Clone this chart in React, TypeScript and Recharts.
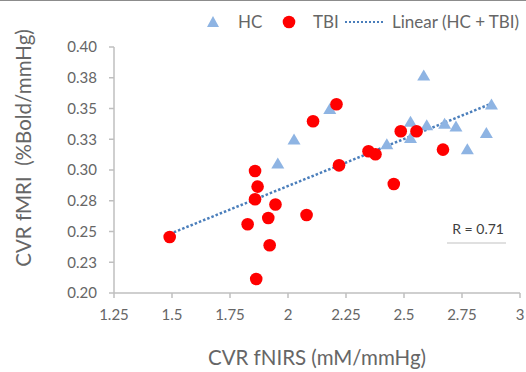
import React from 'react';
import { ScatterChart, Scatter, XAxis, YAxis } from 'recharts';

// HC group (triangles)
const hcX = [1.956, 2.026, 2.18, 2.585, 2.877, 2.528, 2.598, 2.675, 2.724, 2.855, 2.528, 2.426, 2.773];
const hcY = [0.3052, 0.3247, 0.3496, 0.3768, 0.3532, 0.3393, 0.3363, 0.3377, 0.3353, 0.330, 0.326, 0.3209, 0.3168];

// TBI group (circles)
const tbiX = [1.49, 1.869, 1.858, 1.946, 1.915, 1.826, 2.08, 1.921, 1.863, 1.858, 2.108, 2.209, 2.22, 2.347, 2.377, 2.486, 2.554, 2.668, 2.456];
const tbiY = [0.2455, 0.2865, 0.2762, 0.2719, 0.261, 0.2559, 0.2634, 0.2388, 0.2114, 0.2992, 0.3396, 0.3534, 0.3038, 0.3152, 0.3128, 0.3315, 0.3315, 0.3166, 0.2886];

// Linear fit (HC + TBI) endpoints
const trendX = [1.49, 2.877];
const trendY = [0.248, 0.354];

const xTicks = [1.25, 1.5, 1.75, 2, 2.25, 2.5, 2.75, 3];
const yTicks = [0.2, 0.225, 0.25, 0.275, 0.3, 0.325, 0.35, 0.375, 0.4];

const hcData = hcX.map((x, i) => ({ x, y: hcY[i] }));
const tbiData = tbiX.map((x, i) => ({ x, y: tbiY[i] }));
const trendData = trendX.map((x, i) => ({ x, y: trendY[i] }));

const FONT = 'Lato, "Open Sans", sans-serif';
const GREY_TEXT = '#666666';
const AXIS = '#bfbfbf';
const HC_COLOR = '#8eb4e3';
const TBI_COLOR = '#ff0000';
const TREND_COLOR = '#4a7ebb';

const Triangle = (props: any) => {
  const { cx, cy } = props;
  return <polygon points={`${cx},${cy - 6} ${cx - 6.5},${cy + 5} ${cx + 6.5},${cy + 5}`} fill={HC_COLOR} />;
};

const Dot = (props: any) => {
  const { cx, cy } = props;
  return <circle cx={cx} cy={cy} r={6.3} fill={TBI_COLOR} />;
};

const NoShape = () => <g />;

const App: React.FC = () => {
  return (
    <div style={{ position: 'absolute', left: 0, top: 0, width: 526, height: 372, background: '#fff', fontFamily: FONT }}>
      <div style={{ position: 'absolute', left: 0, top: 0, width: 526, height: 1, background: '#8c8c8c' }} />
      <ScatterChart width={526} height={372} margin={{ top: 47, right: 6, bottom: 0, left: 0 }}>
        <XAxis
          type="number"
          dataKey="x"
          domain={[1.25, 3]}
          ticks={xTicks}
          height={79}
          stroke={AXIS}
          strokeWidth={1.5}
          tickSize={5}
          tickMargin={11}
          tick={{ fill: GREY_TEXT, fontSize: 15, fontFamily: FONT }}
          label={{
            content: () => (
              <text x={317} y={365} textAnchor="middle" fill={GREY_TEXT} fontSize={20.5} fontFamily={FONT}>
                CVR fNIRS (mM/mmHg)
              </text>
            ),
          }}
        />
        <YAxis
          type="number"
          dataKey="y"
          domain={[0.2, 0.4]}
          ticks={yTicks}
          width={114}
          stroke={AXIS}
          strokeWidth={1.5}
          tickSize={5}
          tickMargin={12}
          tickFormatter={(v: number) => v.toFixed(2)}
          tick={{ fill: GREY_TEXT, fontSize: 15, fontFamily: FONT }}
          label={{
            content: () => (
              <text
                x={0}
                y={0}
                transform="translate(31,148) rotate(-90)"
                textAnchor="middle"
                fill={GREY_TEXT}
                fontSize={20.5}
                fontFamily={FONT}
                style={{ whiteSpace: 'pre' }}
              >
                {'CVR fMRI  (%Bold/mmHg)'}
              </text>
            ),
          }}
        />
        <Scatter
          data={trendData}
          line={{ stroke: TREND_COLOR, strokeWidth: 2.5, strokeDasharray: '2.5 2' }}
          shape={NoShape}
          isAnimationActive={false}
        />
        <Scatter data={hcData} shape={Triangle} isAnimationActive={false} />
        <Scatter data={tbiData} shape={Dot} isAnimationActive={false} />
      </ScatterChart>

      {/* legend */}
      <svg width={526} height={40} style={{ position: 'absolute', left: 0, top: 0 }}>
        <polygon points="213,16 207,27 219,27" fill={HC_COLOR} />
        <text x={238} y={28} fill={GREY_TEXT} fontSize={17} fontFamily={FONT}>HC</text>
        <circle cx={289} cy={22} r={6.3} fill={TBI_COLOR} />
        <text x={313} y={28} fill={GREY_TEXT} fontSize={17} fontFamily={FONT}>TBI</text>
        <line x1={345} y1={22} x2={385} y2={22} stroke={TREND_COLOR} strokeWidth={2} strokeDasharray="2 2" />
        <text x={392} y={28} fill={GREY_TEXT} fontSize={17} fontFamily={FONT}>Linear (HC + TBI)</text>
      </svg>

      {/* correlation note */}
      <div
        style={{
          position: 'absolute',
          left: 440,
          top: 219,
          width: 64,
          textAlign: 'right',
          fontSize: 14,
          color: '#404040',
          lineHeight: '20px',
        }}
      >
        R = 0.71
      </div>
      <div style={{ position: 'absolute', left: 447, top: 242, width: 59, height: 1.5, background: '#e0e0e0' }} />
    </div>
  );
};

export default App;
